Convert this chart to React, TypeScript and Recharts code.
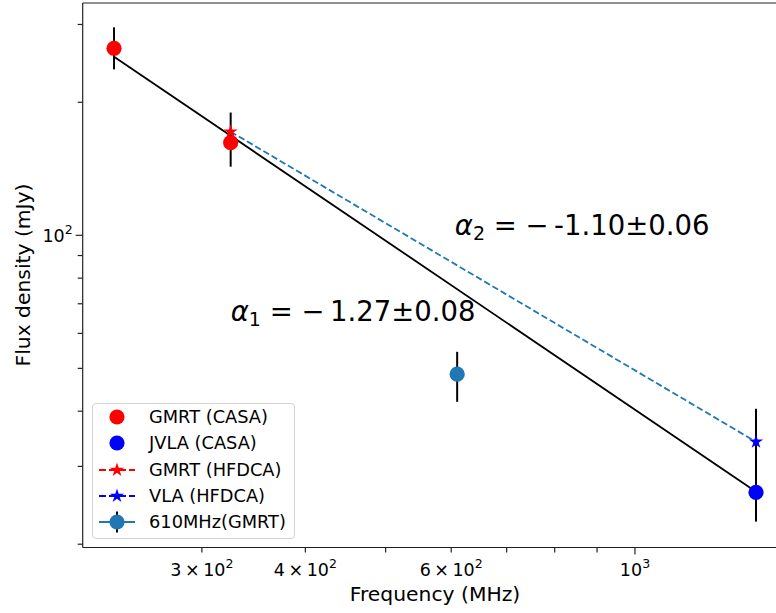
import React from 'react';
import {
  ComposedChart,
  Line,
  Scatter,
  XAxis,
  YAxis,
  ErrorBar,
  ReferenceLine,
  Legend,
} from 'recharts';

const FONT = '"DejaVu Sans", "Noto Sans", sans-serif';

// ---- data (frequency MHz, flux density mJy) ----
const gmrtCasa = [
  { f: 235, v: 265, err: [27.6, 30.5] },
  { f: 325, v: 162, err: [19, 27.6] },
];
const jvlaCasa = [{ f: 1400, v: 26.2, err: [3.7, 14.3] }];
const gmrtHfdca = [{ f: 325, v: 171.6 }];
const vlaHfdca = [{ f: 1400, v: 34.1 }];
const gmrt610 = [{ f: 610, v: 48.5, err: [6.5, 6.0] }];
const fitCasa = [
  { f: 235, v: 253.6 },
  { f: 1400, v: 26.3 },
];
const fitHfdca = [
  { f: 325, v: 171.6 },
  { f: 1400, v: 34.1 },
];
const alpha1Pos = [{ f: 325, v: 64 }];
const alpha2Pos = [{ f: 606, v: 100 }];

const xTicks = [300, 400, 500, 600, 700, 800, 900, 1000];
const xTickLabels: Record<number, [string, string]> = {
  300: ['3\u2009×\u200910', '2'],
  400: ['4\u2009×\u200910', '2'],
  600: ['6\u2009×\u200910', '2'],
  1000: ['10', '3'],
};
const xMajor = [1000];
const yTicks = [20, 30, 40, 50, 60, 70, 80, 90, 100, 200, 300];
const yTickLabels: Record<number, [string, string]> = { 100: ['10', '2'] };
const yMajor = [100];
const xDomain = [215.4, 1480];
const yDomain = [19.66, 335.5];

const legendItems = [
  { label: 'GMRT (CASA)', kind: 'circle', color: '#ff0000' },
  { label: 'JVLA (CASA)', kind: 'circle', color: '#0000ff' },
  { label: 'GMRT (HFDCA)', kind: 'dashStar', color: '#ff0000' },
  { label: 'VLA (HFDCA)', kind: 'dashStar', color: '#0000ff' },
  { label: '610MHz(GMRT)', kind: 'errLine', color: '#1f77b4' },
];

const AXIS = '#222';

function starPath(cx: number, cy: number, R: number) {
  const r = R * 0.381966;
  let d = '';
  for (let i = 0; i < 10; i++) {
    const ang = -Math.PI / 2 + (i * Math.PI) / 5;
    const rad = i % 2 === 0 ? R : r;
    const x = cx + rad * Math.cos(ang);
    const y = cy + rad * Math.sin(ang);
    d += (i === 0 ? 'M' : 'L') + x.toFixed(2) + ',' + y.toFixed(2);
  }
  return d + 'Z';
}

const circleShape = (color: string) => (p: any) =>
  <circle cx={p.cx} cy={p.cy} r={7.6} fill={color} />;
const starShape = (color: string) => (p: any) =>
  <path d={starPath(p.cx, p.cy, 7.4)} fill={color} />;

const XTick = (props: any) => {
  const { x, y, payload } = props;
  const lab = xTickLabels[payload.value];
  const len = xMajor.includes(payload.value) ? 7 : 5;
  return (
    <g>
      <line x1={x} x2={x} y1={y} y2={y + len} stroke={AXIS} strokeWidth={1.2} />
      {lab && (
        <text x={x} y={y + 28} textAnchor="middle" fontFamily={FONT} fontSize={17.5} fill="#000">
          <tspan>{lab[0]}</tspan>
          <tspan dy={-8} fontSize={12.5}>{lab[1]}</tspan>
        </text>
      )}
    </g>
  );
};

const YTick = (props: any) => {
  const { x, y, payload } = props;
  const lab = yTickLabels[payload.value];
  const len = yMajor.includes(payload.value) ? 7 : 5;
  return (
    <g>
      <line x1={x - len} x2={x} y1={y} y2={y} stroke={AXIS} strokeWidth={1.2} />
      {lab && (
        <text x={x - 10} y={y + 6.5} textAnchor="end" fontFamily={FONT} fontSize={17.5} fill="#000">
          <tspan>{lab[0]}</tspan>
          <tspan dy={-8} fontSize={12.5}>{lab[1]}</tspan>
        </text>
      )}
    </g>
  );
};

const alphaText = (sub: string, rest: string) => (p: any) =>
  (
    <text x={p.cx} y={p.cy} fontFamily={FONT} fontSize={27.5} fill="#000">
      <tspan fontStyle="italic">α</tspan>
      <tspan fontSize={19} dy={5}>{sub}</tspan>
      <tspan dy={-5}>{rest}</tspan>
    </text>
  );

const LegendMarker = ({ kind, color }: { kind: string; color: string }) => {
  const cx = 24;
  const cy = 13;
  return (
    <svg width={48} height={26} style={{ position: 'absolute', left: 0, top: 0 }}>
      {kind === 'dashStar' && (
        <line x1={6} x2={42} y1={cy} y2={cy} stroke={color} strokeWidth={2} strokeDasharray="7 3" />
      )}
      {kind === 'errLine' && (
        <>
          <line x1={6} x2={42} y1={cy} y2={cy} stroke={color} strokeWidth={2} />
          <line x1={cx} x2={cx} y1={cy - 10.5} y2={cy + 10.5} stroke="#000" strokeWidth={2} />
        </>
      )}
      {kind === 'dashStar' ? (
        <path d={starPath(cx, cy, 7.4)} fill={color} />
      ) : (
        <circle cx={cx} cy={cy} r={7.6} fill={color} />
      )}
    </svg>
  );
};

const LegendBox = () => (
  <div
    style={{
      position: 'relative',
      width: 203,
      height: 136,
      boxSizing: 'border-box',
      border: '1px solid #d4d4d4',
      borderRadius: 4,
      background: 'rgba(255,255,255,0.85)',
      fontFamily: FONT,
      fontSize: 17.8,
      color: '#000',
    }}
  >
    {legendItems.map((it, i) => (
      <div
        key={it.label}
        style={{ position: 'absolute', left: 0, top: 0.5 + i * 26.25, height: 26, width: 200 }}
      >
        <LegendMarker kind={it.kind} color={it.color} />
        <div style={{ position: 'absolute', left: 56, top: 0, lineHeight: '26px', whiteSpace: 'nowrap' }}>
          {it.label}
        </div>
      </div>
    ))}
  </div>
);

export default function App() {
  return (
    <div
      style={{
        position: 'absolute',
        left: 0,
        top: 0,
        width: 776,
        height: 613,
        overflow: 'hidden',
        background: '#fff',
        fontFamily: FONT,
      }}
    >
      <ComposedChart width={776} height={613} margin={{ top: 3, right: 0, bottom: 25.5, left: 0 }}>
        <XAxis
          type="number"
          dataKey="f"
          scale="log"
          domain={xDomain}
          allowDataOverflow
          ticks={xTicks}
          interval={0}
          tick={<XTick />}
          tickLine={false}
          tickSize={0}
          tickMargin={0}
          height={40}
          axisLine={{ stroke: AXIS, strokeWidth: 1.2 }}
        />
        <YAxis
          type="number"
          dataKey="v"
          scale="log"
          domain={yDomain}
          allowDataOverflow
          ticks={yTicks}
          interval={0}
          tick={<YTick />}
          tickLine={false}
          tickSize={0}
          tickMargin={0}
          width={82.7}
          axisLine={{ stroke: AXIS, strokeWidth: 1.2 }}
        />
        <ReferenceLine y={yDomain[1]} stroke={AXIS} strokeWidth={1.2} />

        <Scatter data={gmrtCasa} dataKey="v" shape={circleShape('#ff0000')} isAnimationActive={false}>
          <ErrorBar dataKey="err" direction="y" width={0} stroke="#000" strokeWidth={2} />
        </Scatter>
        <Scatter data={gmrtHfdca} dataKey="v" shape={starShape('#ff0000')} isAnimationActive={false} />
        <Scatter data={jvlaCasa} dataKey="v" shape={circleShape('#0000ff')} isAnimationActive={false}>
          <ErrorBar dataKey="err" direction="y" width={0} stroke="#000" strokeWidth={2} />
        </Scatter>
        <Scatter data={vlaHfdca} dataKey="v" shape={starShape('#0000ff')} isAnimationActive={false} />
        <Scatter data={gmrt610} dataKey="v" shape={circleShape('#1f77b4')} isAnimationActive={false}>
          <ErrorBar dataKey="err" direction="y" width={0} stroke="#000" strokeWidth={2} />
        </Scatter>

        <Line
          data={fitCasa}
          dataKey="v"
          type="linear"
          stroke="#000"
          strokeWidth={1.8}
          dot={false}
          activeDot={false}
          isAnimationActive={false}
        />
        <Line
          data={fitHfdca}
          dataKey="v"
          type="linear"
          stroke="#1f77b4"
          strokeWidth={1.8}
          strokeDasharray="6.5 3"
          dot={false}
          activeDot={false}
          isAnimationActive={false}
        />

        <Scatter data={alpha2Pos} dataKey="v" shape={alphaText('2', ' = −\u2009-1.10±0.06')} isAnimationActive={false} />
        <Scatter data={alpha1Pos} dataKey="v" shape={alphaText('1', ' = −\u20091.27±0.08')} isAnimationActive={false} />

        <text x={435} y={601} textAnchor="middle" fontFamily={FONT} fontSize={20.3} fill="#000">
          Frequency (MHz)
        </text>
        <text
          x={29.5}
          y={275}
          transform="rotate(-90, 29.5, 275)"
          textAnchor="middle"
          fontFamily={FONT}
          fontSize={20.3}
          fill="#000"
        >
          Flux density (mJy)
        </text>

        <Legend
          layout="horizontal"
          verticalAlign="middle"
          align="center"
          content={() => <LegendBox />}
          wrapperStyle={{ position: 'absolute', left: 92, top: 402.5, width: 203, height: 136 }}
        />
      </ComposedChart>
    </div>
  );
}
